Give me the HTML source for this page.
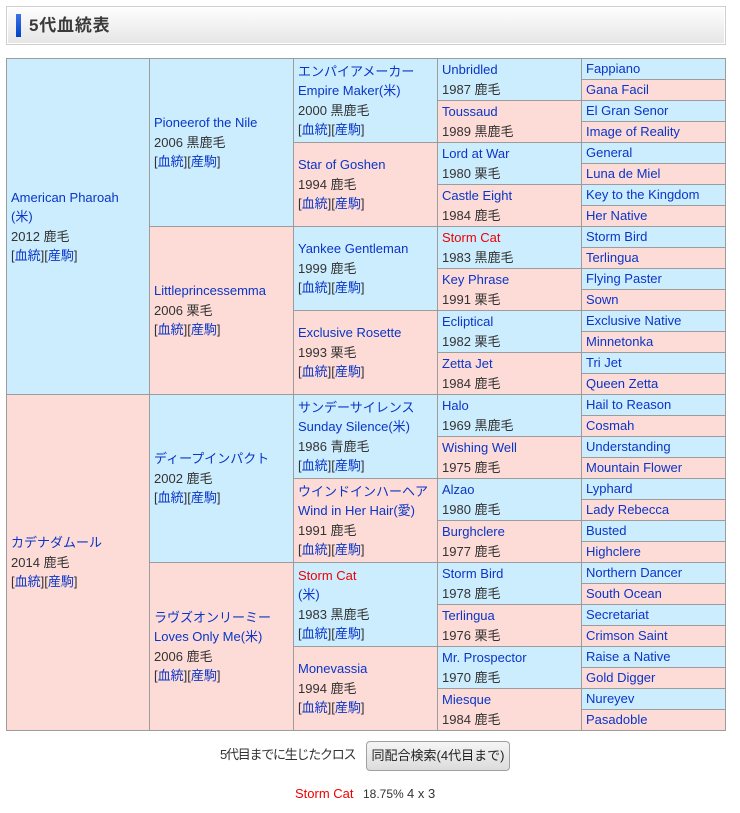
<!DOCTYPE html>
<html lang="ja">
<head>
<meta charset="utf-8">
<style>
html,body{margin:0;padding:0;background:#fff;}
body{width:740px;height:813px;overflow:hidden;position:relative;font-family:"Liberation Sans","Noto Sans CJK JP",sans-serif;color:#333;}
.ttl{position:absolute;left:6px;top:6px;width:720px;height:39px;box-sizing:border-box;border:1px solid #cfcfcf;box-shadow:inset 0 0 0 1px #fff;background:linear-gradient(#fefefe,#e5e5e5);}
.bar{position:absolute;left:16px;top:14px;width:5px;height:23px;background:linear-gradient(#3b73e6,#0042c8);}
.ttxt{position:absolute;left:29px;top:15px;font-size:17px;line-height:22px;font-weight:bold;color:#3a3a3a;letter-spacing:0.8px;}
.c{position:absolute;box-sizing:border-box;border-left:1px solid #9c9c9c;border-top:1px solid #9c9c9c;display:flex;align-items:center;padding-left:4px;font-size:13px;line-height:19.5px;color:#333;white-space:nowrap;}
.b{background:#ccedfd;}
.p{background:#fddbd6;}
.g1{left:6px;width:143px;height:336px;}
.g2{left:149px;width:144px;height:168px;}
.g3{left:293px;width:144px;height:84px;}
.g4{left:437px;width:144px;height:42px;}
.g5{left:581px;width:144px;height:21px;}
.l{color:#0a35c8;}
.vr{position:absolute;left:725px;top:58px;width:1px;height:673px;background:#9c9c9c;}
.hr{position:absolute;left:6px;top:730px;width:720px;height:1px;background:#9c9c9c;}
.cross{position:absolute;left:220px;top:745px;font-size:13px;line-height:20px;color:#333;white-space:nowrap;letter-spacing:-1.25px;}
.btn{position:absolute;left:366px;top:741px;width:144px;height:30px;box-sizing:border-box;border:1px solid #a0a0a0;border-radius:4px;background:linear-gradient(#f5f5f5,#dcdcdc);font-size:13px;line-height:28px;text-align:center;color:#222;white-space:nowrap;}
.bt{position:absolute;top:784px;font-size:13px;line-height:20px;color:#333;white-space:nowrap;}
.r{color:#f00000;}
.bt.r{color:#f00000;}
</style>
</head>
<body>
<div class="ttl"></div>
<div class="bar"></div>
<div class="ttxt">5代血統表</div>

<!-- Gen 1 -->
<div class="c g1 b" style="top:58px"><div><span class="l">American Pharoah</span><br><span class="l">(米)</span><br>2012 鹿毛<br>[<span class="l">血統</span>][<span class="l">産駒</span>]</div></div>
<div class="c g1 p" style="top:394px"><div><span class="l">カデナダムール</span><br>2014 鹿毛<br>[<span class="l">血統</span>][<span class="l">産駒</span>]</div></div>

<!-- Gen 2 -->
<div class="c g2 b" style="top:58px"><div><span class="l">Pioneerof the Nile</span><br>2006 黒鹿毛<br>[<span class="l">血統</span>][<span class="l">産駒</span>]</div></div>
<div class="c g2 p" style="top:226px"><div><span class="l">Littleprincessemma</span><br>2006 栗毛<br>[<span class="l">血統</span>][<span class="l">産駒</span>]</div></div>
<div class="c g2 b" style="top:394px"><div><span class="l">ディープインパクト</span><br>2002 鹿毛<br>[<span class="l">血統</span>][<span class="l">産駒</span>]</div></div>
<div class="c g2 p" style="top:562px"><div><span class="l">ラヴズオンリーミー</span><br><span class="l">Loves Only Me(米)</span><br>2006 鹿毛<br>[<span class="l">血統</span>][<span class="l">産駒</span>]</div></div>

<!-- Gen 3 -->
<div class="c g3 b" style="top:58px"><div><span class="l">エンパイアメーカー</span><br><span class="l">Empire Maker(米)</span><br>2000 黒鹿毛<br>[<span class="l">血統</span>][<span class="l">産駒</span>]</div></div>
<div class="c g3 p" style="top:142px"><div><span class="l">Star of Goshen</span><br>1994 鹿毛<br>[<span class="l">血統</span>][<span class="l">産駒</span>]</div></div>
<div class="c g3 b" style="top:226px"><div><span class="l">Yankee Gentleman</span><br>1999 鹿毛<br>[<span class="l">血統</span>][<span class="l">産駒</span>]</div></div>
<div class="c g3 p" style="top:310px"><div><span class="l">Exclusive Rosette</span><br>1993 栗毛<br>[<span class="l">血統</span>][<span class="l">産駒</span>]</div></div>
<div class="c g3 b" style="top:394px"><div><span class="l">サンデーサイレンス</span><br><span class="l">Sunday Silence(米)</span><br>1986 青鹿毛<br>[<span class="l">血統</span>][<span class="l">産駒</span>]</div></div>
<div class="c g3 p" style="top:478px"><div><span class="l">ウインドインハーヘア</span><br><span class="l">Wind in Her Hair(愛)</span><br>1991 鹿毛<br>[<span class="l">血統</span>][<span class="l">産駒</span>]</div></div>
<div class="c g3 b" style="top:562px"><div><span class="r">Storm Cat</span><br><span class="l">(米)</span><br>1983 黒鹿毛<br>[<span class="l">血統</span>][<span class="l">産駒</span>]</div></div>
<div class="c g3 p" style="top:646px"><div><span class="l">Monevassia</span><br>1994 鹿毛<br>[<span class="l">血統</span>][<span class="l">産駒</span>]</div></div>

<!-- Gen 4 -->
<div class="c g4 b" style="top:58px"><div><span class="l">Unbridled</span><br>1987 鹿毛</div></div>
<div class="c g4 p" style="top:100px"><div><span class="l">Toussaud</span><br>1989 黒鹿毛</div></div>
<div class="c g4 b" style="top:142px"><div><span class="l">Lord at War</span><br>1980 栗毛</div></div>
<div class="c g4 p" style="top:184px"><div><span class="l">Castle Eight</span><br>1984 鹿毛</div></div>
<div class="c g4 b" style="top:226px"><div><span class="r">Storm Cat</span><br>1983 黒鹿毛</div></div>
<div class="c g4 p" style="top:268px"><div><span class="l">Key Phrase</span><br>1991 栗毛</div></div>
<div class="c g4 b" style="top:310px"><div><span class="l">Ecliptical</span><br>1982 栗毛</div></div>
<div class="c g4 p" style="top:352px"><div><span class="l">Zetta Jet</span><br>1984 鹿毛</div></div>
<div class="c g4 b" style="top:394px"><div><span class="l">Halo</span><br>1969 黒鹿毛</div></div>
<div class="c g4 p" style="top:436px"><div><span class="l">Wishing Well</span><br>1975 鹿毛</div></div>
<div class="c g4 b" style="top:478px"><div><span class="l">Alzao</span><br>1980 鹿毛</div></div>
<div class="c g4 p" style="top:520px"><div><span class="l">Burghclere</span><br>1977 鹿毛</div></div>
<div class="c g4 b" style="top:562px"><div><span class="l">Storm Bird</span><br>1978 鹿毛</div></div>
<div class="c g4 p" style="top:604px"><div><span class="l">Terlingua</span><br>1976 栗毛</div></div>
<div class="c g4 b" style="top:646px"><div><span class="l">Mr. Prospector</span><br>1970 鹿毛</div></div>
<div class="c g4 p" style="top:688px"><div><span class="l">Miesque</span><br>1984 鹿毛</div></div>

<!-- Gen 5 -->
<div class="c g5 b" style="top:58px"><span class="l">Fappiano</span></div>
<div class="c g5 p" style="top:79px"><span class="l">Gana Facil</span></div>
<div class="c g5 b" style="top:100px"><span class="l">El Gran Senor</span></div>
<div class="c g5 p" style="top:121px"><span class="l">Image of Reality</span></div>
<div class="c g5 b" style="top:142px"><span class="l">General</span></div>
<div class="c g5 p" style="top:163px"><span class="l">Luna de Miel</span></div>
<div class="c g5 b" style="top:184px"><span class="l">Key to the Kingdom</span></div>
<div class="c g5 p" style="top:205px"><span class="l">Her Native</span></div>
<div class="c g5 b" style="top:226px"><span class="l">Storm Bird</span></div>
<div class="c g5 p" style="top:247px"><span class="l">Terlingua</span></div>
<div class="c g5 b" style="top:268px"><span class="l">Flying Paster</span></div>
<div class="c g5 p" style="top:289px"><span class="l">Sown</span></div>
<div class="c g5 b" style="top:310px"><span class="l">Exclusive Native</span></div>
<div class="c g5 p" style="top:331px"><span class="l">Minnetonka</span></div>
<div class="c g5 b" style="top:352px"><span class="l">Tri Jet</span></div>
<div class="c g5 p" style="top:373px"><span class="l">Queen Zetta</span></div>
<div class="c g5 b" style="top:394px"><span class="l">Hail to Reason</span></div>
<div class="c g5 p" style="top:415px"><span class="l">Cosmah</span></div>
<div class="c g5 b" style="top:436px"><span class="l">Understanding</span></div>
<div class="c g5 p" style="top:457px"><span class="l">Mountain Flower</span></div>
<div class="c g5 b" style="top:478px"><span class="l">Lyphard</span></div>
<div class="c g5 p" style="top:499px"><span class="l">Lady Rebecca</span></div>
<div class="c g5 b" style="top:520px"><span class="l">Busted</span></div>
<div class="c g5 p" style="top:541px"><span class="l">Highclere</span></div>
<div class="c g5 b" style="top:562px"><span class="l">Northern Dancer</span></div>
<div class="c g5 p" style="top:583px"><span class="l">South Ocean</span></div>
<div class="c g5 b" style="top:604px"><span class="l">Secretariat</span></div>
<div class="c g5 p" style="top:625px"><span class="l">Crimson Saint</span></div>
<div class="c g5 b" style="top:646px"><span class="l">Raise a Native</span></div>
<div class="c g5 p" style="top:667px"><span class="l">Gold Digger</span></div>
<div class="c g5 b" style="top:688px"><span class="l">Nureyev</span></div>
<div class="c g5 p" style="top:709px"><span class="l">Pasadoble</span></div>

<div class="vr"></div>
<div class="hr"></div>

<div class="cross">5代目までに生じたクロス</div>
<div class="btn">同配合検索(4代目まで)</div>

<div class="bt r" style="left:295px">Storm Cat</div>
<div class="bt" style="left:363px;font-size:12px">18.75%</div>
<div class="bt" style="left:407px">4 x 3</div>
</body>
</html>
